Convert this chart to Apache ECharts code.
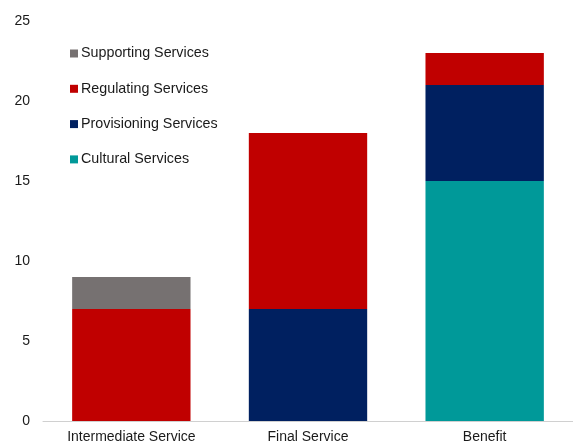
<!DOCTYPE html>
<html><head><meta charset="utf-8">
<script src="https://cdn.jsdelivr.net/npm/echarts@6/dist/echarts.min.js"></script>
<style>html,body{margin:0;padding:0;background:#fff}#c{width:573px;height:444px}</style>
</head><body><div id="c"></div>
<script>
const categories = ['Intermediate Service', 'Final Service', 'Benefit'];
const cultural = [0, 0, 15];
const provisioning = [0, 7, 6];
const regulating = [7, 11, 2];
const supporting = [2, 0, 0];
const yTicks = [0, 5, 10, 15, 20, 25];

const chart = echarts.init(document.getElementById('c'));
const font = 'Liberation Sans, Arial, sans-serif';
function s(name, data, color) {
  return { name, type: 'bar', stack: 'total', data, barWidth: '67%',
    itemStyle: { color }, emphasis: { disabled: true } };
}
chart.setOption({
  animation: false,
  textStyle: { fontFamily: font },
  grid: { left: 43, right: 0, top: 21, bottom: 23, containLabel: false },
  legend: {
    orient: 'vertical', left: 65, top: 41.5,
    data: ['Supporting Services', 'Regulating Services', 'Provisioning Services', 'Cultural Services'],
    icon: 'rect', itemWidth: 8, itemHeight: 8, itemGap: 21.3,
    textStyle: { fontSize: 14.3, color: '#1a1a1a', fontFamily: font, padding: [0, 0, 0, -2] }
  },
  xAxis: {
    type: 'category', data: categories,
    axisLine: { lineStyle: { color: '#d0d0d0', width: 1 } },
    axisTick: { show: false },
    axisLabel: { fontSize: 14, color: '#1a1a1a', fontFamily: font, margin: 9 }
  },
  yAxis: {
    type: 'value', min: yTicks[0], max: yTicks[yTicks.length - 1], interval: 5,
    splitLine: { show: false }, axisLine: { show: false }, axisTick: { show: false },
    axisLabel: { fontSize: 14, color: '#1a1a1a', fontFamily: font, margin: 13 }
  },
  series: [
    s('Cultural Services', cultural, '#009999'),
    s('Provisioning Services', provisioning, '#002060'),
    s('Regulating Services', regulating, '#c00000'),
    s('Supporting Services', supporting, '#767171')
  ]
});
</script></body></html>
